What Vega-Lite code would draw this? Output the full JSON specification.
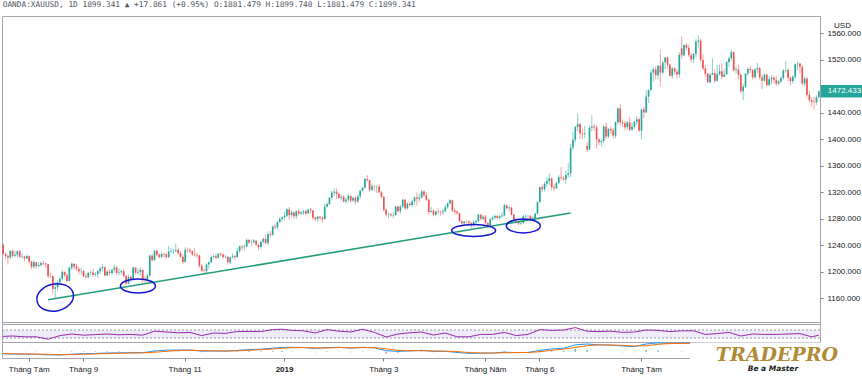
{
"$schema":"https://vega.github.io/schema/vega-lite/v6.json",
"padding":0,
"background":"white",
"title":{"text":"OANDA:XAUUSD, 1D 1899.341 ▲ +17.861 (+0.95%) O:1881.479 H:1899.740 L:1881.479 C:1899.341","anchor":"start","font":"DejaVu Sans Mono","fontSize":7.8,"fontWeight":"normal","color":"#50535e","offset":7,"dx":2},
"spacing":0,
"bounds":"flush",
"resolve":{"scale":{"x":"shared"}},
"config":{"view":{"stroke":"#a3a6af"},"axis":{"labelFont":"Liberation Sans","titleFont":"Liberation Sans","grid":false},
 "axisY":{"orient":"right","titleAngle":0,"titleX":22,"titleY":9,"titleAlign":"center","titleBaseline":"middle","titleFontSize":8,"titleFontWeight":"normal","titleColor":"#131722","labelFontSize":8,"labelColor":"#131722","labelOverlap":false,"labelFlush":false,"tickSize":3,"tickColor":"#787b86","domainColor":"#a3a6af","labelPadding":4}},
"datasets":{
"p":[
{"d":"2018-07-17","o":1240.5,"h":1243,"l":1226,"c":1227.5},
{"d":"2018-07-18","o":1227.5,"h":1229,"l":1220,"c":1224.3},
{"d":"2018-07-19","o":1224.3,"h":1226,"l":1211,"c":1221.8},
{"d":"2018-07-20","o":1221.8,"h":1233,"l":1219,"c":1231.6},
{"d":"2018-07-23","o":1231.6,"h":1235,"l":1221,"c":1224.3},
{"d":"2018-07-24","o":1224.3,"h":1232,"l":1222,"c":1225.9},
{"d":"2018-07-25","o":1225.9,"h":1232.5,"l":1222,"c":1231.2},
{"d":"2018-07-26","o":1231.2,"h":1233,"l":1221,"c":1222.9},
{"d":"2018-07-27","o":1222.9,"h":1228,"l":1220,"c":1223.3},
{"d":"2018-07-30","o":1223.3,"h":1224.5,"l":1216,"c":1220.6},
{"d":"2018-07-31","o":1220.6,"h":1227,"l":1219,"c":1223.8},
{"d":"2018-08-01","o":1223.8,"h":1225,"l":1212,"c":1215.7},
{"d":"2018-08-02","o":1215.7,"h":1217,"l":1204,"c":1207.9},
{"d":"2018-08-03","o":1207.9,"h":1218,"l":1205,"c":1214.7},
{"d":"2018-08-06","o":1214.7,"h":1215,"l":1205,"c":1208.7},
{"d":"2018-08-07","o":1208.7,"h":1215,"l":1207,"c":1210.6},
{"d":"2018-08-08","o":1210.6,"h":1216,"l":1208,"c":1213.5},
{"d":"2018-08-09","o":1213.5,"h":1217,"l":1210,"c":1212.9},
{"d":"2018-08-10","o":1212.9,"h":1214,"l":1206,"c":1211.5},
{"d":"2018-08-13","o":1211.5,"h":1211.5,"l":1190,"c":1193.9},
{"d":"2018-08-14","o":1193.9,"h":1199,"l":1191,"c":1193.5},
{"d":"2018-08-15","o":1193.5,"h":1195,"l":1167,"c":1174.5},
{"d":"2018-08-16","o":1174.5,"h":1185,"l":1160,"c":1176.8},
{"d":"2018-08-17","o":1176.8,"h":1187,"l":1172,"c":1184.0},
{"d":"2018-08-20","o":1184.0,"h":1193,"l":1182,"c":1189.8},
{"d":"2018-08-21","o":1189.8,"h":1203,"l":1187,"c":1200.0},
{"d":"2018-08-22","o":1200.0,"h":1201,"l":1192,"c":1195.2},
{"d":"2018-08-23","o":1195.2,"h":1198,"l":1184,"c":1186.5},
{"d":"2018-08-24","o":1186.5,"h":1208,"l":1186,"c":1206.5},
{"d":"2018-08-27","o":1206.5,"h":1214,"l":1203,"c":1212.4},
{"d":"2018-08-28","o":1212.4,"h":1213,"l":1203,"c":1208.2},
{"d":"2018-08-29","o":1208.2,"h":1212,"l":1202,"c":1204.6},
{"d":"2018-08-30","o":1204.6,"h":1208,"l":1196,"c":1201.2},
{"d":"2018-08-31","o":1201.2,"h":1206,"l":1196,"c":1201.5},
{"d":"2018-09-03","o":1201.5,"h":1203,"l":1192,"c":1193.5},
{"d":"2018-09-04","o":1193.5,"h":1198,"l":1190,"c":1192.2},
{"d":"2018-09-05","o":1192.2,"h":1200,"l":1190,"c":1198.4},
{"d":"2018-09-06","o":1198.4,"h":1202,"l":1195,"c":1199.2},
{"d":"2018-09-07","o":1199.2,"h":1205,"l":1192,"c":1195.5},
{"d":"2018-09-10","o":1195.5,"h":1200,"l":1193,"c":1196.6},
{"d":"2018-09-11","o":1196.6,"h":1203,"l":1191,"c":1201.2},
{"d":"2018-09-12","o":1201.2,"h":1208,"l":1197,"c":1205.2},
{"d":"2018-09-13","o":1205.2,"h":1212,"l":1201,"c":1207.1},
{"d":"2018-09-14","o":1207.1,"h":1208,"l":1193,"c":1194.8},
{"d":"2018-09-17","o":1194.8,"h":1203,"l":1194,"c":1200.5},
{"d":"2018-09-18","o":1200.5,"h":1204,"l":1195,"c":1198.4},
{"d":"2018-09-19","o":1198.4,"h":1204,"l":1196,"c":1203.5},
{"d":"2018-09-20","o":1203.5,"h":1211,"l":1199,"c":1206.6},
{"d":"2018-09-21","o":1206.6,"h":1209,"l":1195,"c":1198.5},
{"d":"2018-09-24","o":1198.5,"h":1205,"l":1195,"c":1199.3},
{"d":"2018-09-25","o":1199.3,"h":1203,"l":1196,"c":1201.1},
{"d":"2018-09-26","o":1201.1,"h":1205,"l":1192,"c":1194.1},
{"d":"2018-09-27","o":1194.1,"h":1195,"l":1180,"c":1182.5},
{"d":"2018-09-28","o":1182.5,"h":1196,"l":1182,"c":1192.3},
{"d":"2018-10-01","o":1192.3,"h":1195,"l":1185,"c":1188.4},
{"d":"2018-10-02","o":1188.4,"h":1208,"l":1187,"c":1206.8},
{"d":"2018-10-03","o":1206.8,"h":1207,"l":1196,"c":1198.9},
{"d":"2018-10-04","o":1198.9,"h":1205,"l":1195,"c":1199.9},
{"d":"2018-10-05","o":1199.9,"h":1207,"l":1194,"c":1203.1},
{"d":"2018-10-08","o":1203.1,"h":1204,"l":1184,"c":1189.6},
{"d":"2018-10-09","o":1189.6,"h":1194,"l":1183,"c":1188.2},
{"d":"2018-10-10","o":1188.2,"h":1197,"l":1185,"c":1194.6},
{"d":"2018-10-11","o":1194.6,"h":1226,"l":1193,"c":1224.6},
{"d":"2018-10-12","o":1224.6,"h":1227,"l":1215,"c":1218.0},
{"d":"2018-10-15","o":1218.0,"h":1233,"l":1216,"c":1232.0},
{"d":"2018-10-16","o":1232.0,"h":1234,"l":1224,"c":1226.0},
{"d":"2018-10-17","o":1226.0,"h":1228,"l":1220,"c":1222.7},
{"d":"2018-10-18","o":1222.7,"h":1230,"l":1221,"c":1227.1},
{"d":"2018-10-19","o":1227.1,"h":1229,"l":1222,"c":1226.5},
{"d":"2018-10-22","o":1226.5,"h":1228,"l":1220,"c":1222.3},
{"d":"2018-10-23","o":1222.3,"h":1239,"l":1221,"c":1230.8},
{"d":"2018-10-24","o":1230.8,"h":1236,"l":1228,"c":1231.5},
{"d":"2018-10-25","o":1231.5,"h":1235,"l":1227,"c":1232.1},
{"d":"2018-10-26","o":1232.1,"h":1243,"l":1230,"c":1233.1},
{"d":"2018-10-29","o":1233.1,"h":1237,"l":1226,"c":1228.6},
{"d":"2018-10-30","o":1228.6,"h":1231,"l":1221,"c":1222.8},
{"d":"2018-10-31","o":1222.8,"h":1226,"l":1212,"c":1215.0},
{"d":"2018-11-01","o":1215.0,"h":1237,"l":1214,"c":1233.5},
{"d":"2018-11-02","o":1233.5,"h":1237,"l":1229,"c":1232.7},
{"d":"2018-11-05","o":1232.7,"h":1236,"l":1228,"c":1231.0},
{"d":"2018-11-06","o":1231.0,"h":1233,"l":1224,"c":1226.5},
{"d":"2018-11-07","o":1226.5,"h":1236,"l":1223,"c":1225.4},
{"d":"2018-11-08","o":1225.4,"h":1229,"l":1221,"c":1224.9},
{"d":"2018-11-09","o":1224.9,"h":1226,"l":1206,"c":1209.4},
{"d":"2018-11-12","o":1209.4,"h":1212,"l":1200,"c":1202.0},
{"d":"2018-11-13","o":1202.0,"h":1205,"l":1196,"c":1201.5},
{"d":"2018-11-14","o":1201.5,"h":1213,"l":1198,"c":1211.2},
{"d":"2018-11-15","o":1211.2,"h":1216,"l":1205,"c":1214.8},
{"d":"2018-11-16","o":1214.8,"h":1225,"l":1213,"c":1222.5},
{"d":"2018-11-19","o":1222.5,"h":1227,"l":1220,"c":1223.6},
{"d":"2018-11-20","o":1223.6,"h":1228,"l":1219,"c":1221.5},
{"d":"2018-11-21","o":1221.5,"h":1228,"l":1220,"c":1227.6},
{"d":"2018-11-22","o":1227.6,"h":1229,"l":1224,"c":1226.3},
{"d":"2018-11-23","o":1226.3,"h":1228,"l":1220,"c":1222.4},
{"d":"2018-11-26","o":1222.4,"h":1226,"l":1220,"c":1223.0},
{"d":"2018-11-27","o":1223.0,"h":1223.5,"l":1211,"c":1214.8},
{"d":"2018-11-28","o":1214.8,"h":1223,"l":1212,"c":1222.2},
{"d":"2018-11-29","o":1222.2,"h":1228,"l":1220,"c":1223.7},
{"d":"2018-11-30","o":1223.7,"h":1226,"l":1218,"c":1222.3},
{"d":"2018-12-03","o":1222.3,"h":1236,"l":1221,"c":1231.4},
{"d":"2018-12-04","o":1231.4,"h":1240,"l":1229,"c":1238.5},
{"d":"2018-12-05","o":1238.5,"h":1241,"l":1233,"c":1237.4},
{"d":"2018-12-06","o":1237.4,"h":1242,"l":1232,"c":1238.4},
{"d":"2018-12-07","o":1238.4,"h":1251,"l":1237,"c":1248.2},
{"d":"2018-12-10","o":1248.2,"h":1250,"l":1242,"c":1244.3},
{"d":"2018-12-11","o":1244.3,"h":1249,"l":1239,"c":1244.8},
{"d":"2018-12-12","o":1244.8,"h":1250,"l":1243,"c":1247.2},
{"d":"2018-12-13","o":1247.2,"h":1248,"l":1239,"c":1241.0},
{"d":"2018-12-14","o":1241.0,"h":1243,"l":1233,"c":1237.5},
{"d":"2018-12-17","o":1237.5,"h":1247,"l":1235,"c":1245.7},
{"d":"2018-12-18","o":1245.7,"h":1252,"l":1243,"c":1249.9},
{"d":"2018-12-19","o":1249.9,"h":1256,"l":1242,"c":1243.6},
{"d":"2018-12-20","o":1243.6,"h":1261,"l":1240,"c":1257.4},
{"d":"2018-12-21","o":1257.4,"h":1262,"l":1253,"c":1256.2},
{"d":"2018-12-24","o":1256.2,"h":1270,"l":1255,"c":1268.4},
{"d":"2018-12-26","o":1268.4,"h":1272,"l":1264,"c":1267.4},
{"d":"2018-12-27","o":1267.4,"h":1277,"l":1264,"c":1275.3},
{"d":"2018-12-28","o":1275.3,"h":1283,"l":1274,"c":1279.8},
{"d":"2018-12-31","o":1279.8,"h":1284,"l":1276,"c":1282.1},
{"d":"2019-01-02","o":1282.1,"h":1291,"l":1278,"c":1284.7},
{"d":"2019-01-03","o":1284.7,"h":1296,"l":1283,"c":1294.5},
{"d":"2019-01-04","o":1294.5,"h":1298,"l":1279,"c":1285.8},
{"d":"2019-01-07","o":1285.8,"h":1293,"l":1283,"c":1289.7},
{"d":"2019-01-08","o":1289.7,"h":1291,"l":1280,"c":1284.1},
{"d":"2019-01-09","o":1284.1,"h":1293,"l":1280,"c":1291.6},
{"d":"2019-01-10","o":1291.6,"h":1295,"l":1285,"c":1287.9},
{"d":"2019-01-11","o":1287.9,"h":1292,"l":1286,"c":1289.5},
{"d":"2019-01-14","o":1289.5,"h":1294,"l":1286,"c":1291.7},
{"d":"2019-01-15","o":1291.7,"h":1294,"l":1285,"c":1288.2},
{"d":"2019-01-16","o":1288.2,"h":1295,"l":1287,"c":1294.1},
{"d":"2019-01-17","o":1294.1,"h":1297,"l":1288,"c":1292.6},
{"d":"2019-01-18","o":1292.6,"h":1293,"l":1279,"c":1281.8},
{"d":"2019-01-21","o":1281.8,"h":1283,"l":1277,"c":1279.7},
{"d":"2019-01-22","o":1279.7,"h":1284,"l":1276,"c":1283.3},
{"d":"2019-01-23","o":1283.3,"h":1285,"l":1278,"c":1281.6},
{"d":"2019-01-24","o":1281.6,"h":1284,"l":1274,"c":1279.6},
{"d":"2019-01-25","o":1279.6,"h":1303,"l":1279,"c":1298.2},
{"d":"2019-01-28","o":1298.2,"h":1305,"l":1297,"c":1302.3},
{"d":"2019-01-29","o":1302.3,"h":1313,"l":1301,"c":1311.8},
{"d":"2019-01-30","o":1311.8,"h":1322,"l":1309,"c":1319.4},
{"d":"2019-01-31","o":1319.4,"h":1326,"l":1314,"c":1321.1},
{"d":"2019-02-01","o":1321.1,"h":1326,"l":1310,"c":1317.8},
{"d":"2019-02-04","o":1317.8,"h":1319,"l":1310,"c":1311.8},
{"d":"2019-02-05","o":1311.8,"h":1317,"l":1308,"c":1313.4},
{"d":"2019-02-06","o":1313.4,"h":1316,"l":1305,"c":1306.3},
{"d":"2019-02-07","o":1306.3,"h":1312,"l":1303,"c":1309.3},
{"d":"2019-02-08","o":1309.3,"h":1318,"l":1306,"c":1314.8},
{"d":"2019-02-11","o":1314.8,"h":1315,"l":1305,"c":1307.6},
{"d":"2019-02-12","o":1307.6,"h":1314,"l":1305,"c":1311.6},
{"d":"2019-02-13","o":1311.6,"h":1314,"l":1302,"c":1306.3},
{"d":"2019-02-14","o":1306.3,"h":1317,"l":1304,"c":1314.0},
{"d":"2019-02-15","o":1314.0,"h":1324,"l":1310,"c":1322.5},
{"d":"2019-02-18","o":1322.5,"h":1328,"l":1321,"c":1327.1},
{"d":"2019-02-19","o":1327.1,"h":1342,"l":1326,"c":1340.2},
{"d":"2019-02-20","o":1340.2,"h":1346,"l":1336,"c":1338.3},
{"d":"2019-02-21","o":1338.3,"h":1339,"l":1321,"c":1323.9},
{"d":"2019-02-22","o":1323.9,"h":1333,"l":1322,"c":1328.9},
{"d":"2019-02-25","o":1328.9,"h":1331,"l":1322,"c":1328.2},
{"d":"2019-02-26","o":1328.2,"h":1330,"l":1319,"c":1328.6},
{"d":"2019-02-27","o":1328.6,"h":1332,"l":1318,"c":1320.1},
{"d":"2019-02-28","o":1320.1,"h":1322,"l":1311,"c":1313.0},
{"d":"2019-03-01","o":1313.0,"h":1315,"l":1291,"c":1293.8},
{"d":"2019-03-04","o":1293.8,"h":1296,"l":1284,"c":1286.6},
{"d":"2019-03-05","o":1286.6,"h":1290,"l":1281,"c":1286.9},
{"d":"2019-03-06","o":1286.9,"h":1289,"l":1283,"c":1285.4},
{"d":"2019-03-07","o":1285.4,"h":1290,"l":1281,"c":1285.8},
{"d":"2019-03-08","o":1285.8,"h":1300,"l":1285,"c":1298.7},
{"d":"2019-03-11","o":1298.7,"h":1299,"l":1289,"c":1291.7},
{"d":"2019-03-12","o":1291.7,"h":1301,"l":1288,"c":1298.9},
{"d":"2019-03-13","o":1298.9,"h":1311,"l":1296,"c":1308.8},
{"d":"2019-03-14","o":1308.8,"h":1310,"l":1293,"c":1295.9},
{"d":"2019-03-15","o":1295.9,"h":1305,"l":1294,"c":1302.8},
{"d":"2019-03-18","o":1302.8,"h":1306,"l":1299,"c":1301.0},
{"d":"2019-03-19","o":1301.0,"h":1309,"l":1298,"c":1306.6},
{"d":"2019-03-20","o":1306.6,"h":1314,"l":1302,"c":1312.4},
{"d":"2019-03-21","o":1312.4,"h":1320,"l":1300,"c":1310.3},
{"d":"2019-03-22","o":1310.3,"h":1318,"l":1305,"c":1312.2},
{"d":"2019-03-25","o":1312.2,"h":1324,"l":1311,"c":1321.3},
{"d":"2019-03-26","o":1321.3,"h":1323,"l":1313,"c":1315.7},
{"d":"2019-03-27","o":1315.7,"h":1320,"l":1307,"c":1309.0},
{"d":"2019-03-28","o":1309.0,"h":1311,"l":1287,"c":1290.5},
{"d":"2019-03-29","o":1290.5,"h":1298,"l":1289,"c":1292.1},
{"d":"2019-04-01","o":1292.1,"h":1295,"l":1284,"c":1286.4},
{"d":"2019-04-02","o":1286.4,"h":1293,"l":1284,"c":1291.2},
{"d":"2019-04-03","o":1291.2,"h":1296,"l":1287,"c":1290.6},
{"d":"2019-04-04","o":1290.6,"h":1293,"l":1285,"c":1289.9},
{"d":"2019-04-05","o":1289.9,"h":1295,"l":1286,"c":1291.7},
{"d":"2019-04-08","o":1291.7,"h":1302,"l":1290,"c":1297.6},
{"d":"2019-04-09","o":1297.6,"h":1305,"l":1295,"c":1303.6},
{"d":"2019-04-10","o":1303.6,"h":1310,"l":1302,"c":1308.1},
{"d":"2019-04-11","o":1308.1,"h":1309,"l":1290,"c":1292.6},
{"d":"2019-04-12","o":1292.6,"h":1296,"l":1287,"c":1290.7},
{"d":"2019-04-15","o":1290.7,"h":1293,"l":1286,"c":1288.4},
{"d":"2019-04-16","o":1288.4,"h":1290,"l":1275,"c":1276.6},
{"d":"2019-04-17","o":1276.6,"h":1278,"l":1271,"c":1273.4},
{"d":"2019-04-18","o":1273.4,"h":1277,"l":1270,"c":1275.9},
{"d":"2019-04-19","o":1275.9,"h":1277,"l":1273,"c":1275.6},
{"d":"2019-04-22","o":1275.6,"h":1278,"l":1270,"c":1273.3},
{"d":"2019-04-23","o":1273.3,"h":1276,"l":1266,"c":1270.4},
{"d":"2019-04-24","o":1270.4,"h":1278,"l":1268,"c":1275.5},
{"d":"2019-04-25","o":1275.5,"h":1279,"l":1272,"c":1276.8},
{"d":"2019-04-26","o":1276.8,"h":1288,"l":1274,"c":1286.3},
{"d":"2019-04-29","o":1286.3,"h":1288,"l":1278,"c":1280.3},
{"d":"2019-04-30","o":1280.3,"h":1286,"l":1278,"c":1283.4},
{"d":"2019-05-01","o":1283.4,"h":1286,"l":1271,"c":1273.8},
{"d":"2019-05-02","o":1273.8,"h":1275,"l":1266,"c":1270.2},
{"d":"2019-05-03","o":1270.2,"h":1282,"l":1267,"c":1279.5},
{"d":"2019-05-06","o":1279.5,"h":1285,"l":1277,"c":1281.8},
{"d":"2019-05-07","o":1281.8,"h":1287,"l":1279,"c":1284.4},
{"d":"2019-05-08","o":1284.4,"h":1286,"l":1279,"c":1281.4},
{"d":"2019-05-09","o":1281.4,"h":1286,"l":1279,"c":1284.0},
{"d":"2019-05-10","o":1284.0,"h":1290,"l":1282,"c":1285.2},
{"d":"2019-05-13","o":1285.2,"h":1303,"l":1284,"c":1300.5},
{"d":"2019-05-14","o":1300.5,"h":1302,"l":1294,"c":1296.2},
{"d":"2019-05-15","o":1296.2,"h":1299,"l":1292,"c":1297.3},
{"d":"2019-05-16","o":1297.3,"h":1298,"l":1285,"c":1286.4},
{"d":"2019-05-17","o":1286.4,"h":1288,"l":1276,"c":1277.6},
{"d":"2019-05-20","o":1277.6,"h":1280,"l":1273,"c":1276.9},
{"d":"2019-05-21","o":1276.9,"h":1278,"l":1270,"c":1273.0},
{"d":"2019-05-22","o":1273.0,"h":1276,"l":1271,"c":1274.0},
{"d":"2019-05-23","o":1274.0,"h":1286,"l":1273,"c":1283.9},
{"d":"2019-05-24","o":1283.9,"h":1287,"l":1280,"c":1284.6},
{"d":"2019-05-27","o":1284.6,"h":1286,"l":1282,"c":1284.9},
{"d":"2019-05-28","o":1284.9,"h":1285,"l":1276,"c":1279.0},
{"d":"2019-05-29","o":1279.0,"h":1284,"l":1277,"c":1281.0},
{"d":"2019-05-30","o":1281.0,"h":1290,"l":1279,"c":1287.8},
{"d":"2019-05-31","o":1287.8,"h":1306,"l":1287,"c":1305.4},
{"d":"2019-06-03","o":1305.4,"h":1329,"l":1304,"c":1327.9},
{"d":"2019-06-04","o":1327.9,"h":1332,"l":1320,"c":1324.6},
{"d":"2019-06-05","o":1324.6,"h":1336,"l":1321,"c":1333.0},
{"d":"2019-06-06","o":1333.0,"h":1343,"l":1328,"c":1337.0},
{"d":"2019-06-07","o":1337.0,"h":1348,"l":1331,"c":1341.1},
{"d":"2019-06-10","o":1341.1,"h":1342,"l":1323,"c":1327.7},
{"d":"2019-06-11","o":1327.7,"h":1332,"l":1322,"c":1326.4},
{"d":"2019-06-12","o":1326.4,"h":1336,"l":1325,"c":1334.2},
{"d":"2019-06-13","o":1334.2,"h":1346,"l":1332,"c":1342.9},
{"d":"2019-06-14","o":1342.9,"h":1358,"l":1338,"c":1341.5},
{"d":"2019-06-17","o":1341.5,"h":1345,"l":1337,"c":1339.6},
{"d":"2019-06-18","o":1339.6,"h":1353,"l":1332,"c":1346.2},
{"d":"2019-06-19","o":1346.2,"h":1364,"l":1342,"c":1348.5},
{"d":"2019-06-20","o":1348.5,"h":1393,"l":1343,"c":1387.5},
{"d":"2019-06-21","o":1387.5,"h":1411,"l":1384,"c":1399.4},
{"d":"2019-06-24","o":1399.4,"h":1420,"l":1395,"c":1418.5},
{"d":"2019-06-25","o":1418.5,"h":1439,"l":1412,"c":1422.8},
{"d":"2019-06-26","o":1422.8,"h":1425,"l":1401,"c":1408.7},
{"d":"2019-06-27","o":1408.7,"h":1415,"l":1400,"c":1407.8},
{"d":"2019-06-28","o":1407.8,"h":1420,"l":1402,"c":1409.0},
{"d":"2019-07-01","o":1390.0,"h":1396,"l":1381,"c":1384.6},
{"d":"2019-07-02","o":1384.6,"h":1420,"l":1384,"c":1417.3},
{"d":"2019-07-03","o":1417.3,"h":1437,"l":1412,"c":1419.5},
{"d":"2019-07-04","o":1419.5,"h":1423,"l":1413,"c":1418.0},
{"d":"2019-07-05","o":1418.0,"h":1422,"l":1386,"c":1399.7},
{"d":"2019-07-08","o":1399.7,"h":1402,"l":1391,"c":1395.9},
{"d":"2019-07-09","o":1395.9,"h":1401,"l":1389,"c":1397.5},
{"d":"2019-07-10","o":1397.5,"h":1421,"l":1394,"c":1419.0},
{"d":"2019-07-11","o":1419.0,"h":1425,"l":1400,"c":1404.1},
{"d":"2019-07-12","o":1404.1,"h":1417,"l":1402,"c":1415.7},
{"d":"2019-07-15","o":1415.7,"h":1419,"l":1408,"c":1413.5},
{"d":"2019-07-16","o":1413.5,"h":1417,"l":1401,"c":1405.6},
{"d":"2019-07-17","o":1405.6,"h":1427,"l":1402,"c":1425.9},
{"d":"2019-07-18","o":1425.9,"h":1448,"l":1422,"c":1446.4},
{"d":"2019-07-19","o":1446.4,"h":1453,"l":1421,"c":1425.6},
{"d":"2019-07-22","o":1425.6,"h":1430,"l":1419,"c":1424.3},
{"d":"2019-07-23","o":1424.3,"h":1428,"l":1413,"c":1418.4},
{"d":"2019-07-24","o":1418.4,"h":1428,"l":1415,"c":1425.6},
{"d":"2019-07-25","o":1425.6,"h":1434,"l":1412,"c":1414.5},
{"d":"2019-07-26","o":1414.5,"h":1425,"l":1413,"c":1418.8},
{"d":"2019-07-29","o":1418.8,"h":1428,"l":1416,"c":1426.4},
{"d":"2019-07-30","o":1426.4,"h":1435,"l":1422,"c":1430.2},
{"d":"2019-07-31","o":1430.2,"h":1433,"l":1411,"c":1413.2},
{"d":"2019-08-01","o":1413.2,"h":1446,"l":1400,"c":1444.9},
{"d":"2019-08-02","o":1444.9,"h":1449,"l":1432,"c":1440.5},
{"d":"2019-08-05","o":1440.5,"h":1474,"l":1440,"c":1464.4},
{"d":"2019-08-06","o":1464.4,"h":1475,"l":1455,"c":1474.3},
{"d":"2019-08-07","o":1474.3,"h":1505,"l":1473,"c":1500.7},
{"d":"2019-08-08","o":1500.7,"h":1509,"l":1487,"c":1505.6},
{"d":"2019-08-09","o":1505.6,"h":1510,"l":1490,"c":1496.8},
{"d":"2019-08-12","o":1496.8,"h":1512,"l":1490,"c":1511.0},
{"d":"2019-08-13","o":1511.0,"h":1535,"l":1480,"c":1500.6},
{"d":"2019-08-14","o":1500.6,"h":1518,"l":1498,"c":1516.0},
{"d":"2019-08-15","o":1516.0,"h":1524,"l":1506,"c":1523.4},
{"d":"2019-08-16","o":1523.4,"h":1525,"l":1507,"c":1512.3},
{"d":"2019-08-19","o":1512.3,"h":1514,"l":1494,"c":1495.9},
{"d":"2019-08-20","o":1495.9,"h":1509,"l":1491,"c":1507.1},
{"d":"2019-08-21","o":1507.1,"h":1509,"l":1498,"c":1501.9},
{"d":"2019-08-22","o":1501.9,"h":1506,"l":1492,"c":1497.9},
{"d":"2019-08-23","o":1497.9,"h":1531,"l":1493,"c":1527.3},
{"d":"2019-08-26","o":1537.0,"h":1555,"l":1521,"c":1526.8},
{"d":"2019-08-27","o":1526.8,"h":1543,"l":1525,"c":1542.2},
{"d":"2019-08-28","o":1542.2,"h":1545,"l":1534,"c":1538.2},
{"d":"2019-08-29","o":1538.2,"h":1543,"l":1524,"c":1526.9},
{"d":"2019-08-30","o":1526.9,"h":1530,"l":1516,"c":1520.5},
{"d":"2019-09-02","o":1520.5,"h":1530,"l":1515,"c":1529.1},
{"d":"2019-09-03","o":1529.1,"h":1551,"l":1524,"c":1547.0},
{"d":"2019-09-04","o":1547.0,"h":1557,"l":1538,"c":1549.0},
{"d":"2019-09-05","o":1549.0,"h":1552,"l":1517,"c":1519.7},
{"d":"2019-09-06","o":1519.7,"h":1528,"l":1504,"c":1506.9},
{"d":"2019-09-09","o":1506.9,"h":1512,"l":1494,"c":1498.9},
{"d":"2019-09-10","o":1498.9,"h":1500,"l":1485,"c":1486.1},
{"d":"2019-09-11","o":1486.1,"h":1500,"l":1484,"c":1497.3},
{"d":"2019-09-12","o":1497.3,"h":1522,"l":1497,"c":1499.9},
{"d":"2019-09-13","o":1499.9,"h":1506,"l":1485,"c":1488.3},
{"d":"2019-09-16","o":1488.3,"h":1512,"l":1487,"c":1498.3},
{"d":"2019-09-17","o":1498.3,"h":1513,"l":1496,"c":1502.5},
{"d":"2019-09-18","o":1502.5,"h":1514,"l":1491,"c":1494.2},
{"d":"2019-09-19","o":1494.2,"h":1506,"l":1494,"c":1498.0},
{"d":"2019-09-20","o":1498.0,"h":1518,"l":1498,"c":1516.5},
{"d":"2019-09-23","o":1516.5,"h":1524,"l":1509,"c":1522.1},
{"d":"2019-09-24","o":1522.1,"h":1535,"l":1519,"c":1531.6},
{"d":"2019-09-25","o":1531.6,"h":1533,"l":1502,"c":1504.0},
{"d":"2019-09-26","o":1504.0,"h":1510,"l":1499,"c":1505.4},
{"d":"2019-09-27","o":1505.4,"h":1513,"l":1490,"c":1497.4},
{"d":"2019-09-30","o":1497.4,"h":1499,"l":1469,"c":1472.5},
{"d":"2019-10-01","o":1472.5,"h":1484,"l":1459,"c":1479.5},
{"d":"2019-10-02","o":1479.5,"h":1500,"l":1477,"c":1499.2},
{"d":"2019-10-03","o":1499.2,"h":1509,"l":1496,"c":1506.2},
{"d":"2019-10-04","o":1506.2,"h":1511,"l":1500,"c":1504.6},
{"d":"2019-10-07","o":1504.6,"h":1506,"l":1490,"c":1493.4},
{"d":"2019-10-08","o":1493.4,"h":1507,"l":1492,"c":1505.3},
{"d":"2019-10-09","o":1505.3,"h":1515,"l":1500,"c":1507.6},
{"d":"2019-10-10","o":1507.6,"h":1509,"l":1490,"c":1493.4},
{"d":"2019-10-11","o":1493.4,"h":1497,"l":1476,"c":1488.5},
{"d":"2019-10-14","o":1488.5,"h":1499,"l":1487,"c":1497.7},
{"d":"2019-10-15","o":1497.7,"h":1498,"l":1480,"c":1481.8},
{"d":"2019-10-16","o":1481.8,"h":1495,"l":1480,"c":1490.6},
{"d":"2019-10-17","o":1490.6,"h":1497,"l":1483,"c":1492.9},
{"d":"2019-10-18","o":1492.9,"h":1496,"l":1484,"c":1489.9},
{"d":"2019-10-21","o":1489.9,"h":1495,"l":1480,"c":1484.1},
{"d":"2019-10-22","o":1484.1,"h":1490,"l":1481,"c":1487.2},
{"d":"2019-10-23","o":1487.2,"h":1495,"l":1485,"c":1492.6},
{"d":"2019-10-24","o":1492.6,"h":1506,"l":1490,"c":1503.7},
{"d":"2019-10-25","o":1503.7,"h":1518,"l":1501,"c":1504.4},
{"d":"2019-10-28","o":1504.4,"h":1507,"l":1488,"c":1492.8},
{"d":"2019-10-29","o":1492.8,"h":1495,"l":1481,"c":1487.7},
{"d":"2019-10-30","o":1487.7,"h":1497,"l":1484,"c":1494.6},
{"d":"2019-10-31","o":1494.6,"h":1514,"l":1491,"c":1513.4},
{"d":"2019-11-01","o":1513.4,"h":1517,"l":1504,"c":1514.2},
{"d":"2019-11-04","o":1514.2,"h":1515,"l":1500,"c":1509.3},
{"d":"2019-11-05","o":1509.3,"h":1512,"l":1481,"c":1484.2},
{"d":"2019-11-06","o":1484.2,"h":1494,"l":1480,"c":1491.3},
{"d":"2019-11-07","o":1491.3,"h":1494,"l":1464,"c":1467.3},
{"d":"2019-11-08","o":1467.3,"h":1473,"l":1456,"c":1459.0},
{"d":"2019-11-11","o":1459.0,"h":1463,"l":1449,"c":1456.6},
{"d":"2019-11-12","o":1456.6,"h":1464,"l":1445,"c":1455.8},
{"d":"2019-11-13","o":1455.8,"h":1466,"l":1452,"c":1463.6},
{"d":"2019-11-14","o":1463.6,"h":1474,"l":1462,"c":1472.433}
],
"ind":[
{"d":"2018-07-17","r":38,"m":-7.5,"s":-6.5,"g":-1.0},
{"d":"2018-07-23","r":40,"m":-8.0,"s":-7.2,"g":-0.8},
{"d":"2018-07-30","r":36,"m":-8.5,"s":-7.8,"g":-0.7},
{"d":"2018-08-06","r":36,"m":-9.0,"s":-8.3,"g":-0.7},
{"d":"2018-08-13","r":24,"m":-11.0,"s":-9.0,"g":-2.0},
{"d":"2018-08-20","r":42,"m":-11.5,"s":-10.5,"g":-1.0},
{"d":"2018-08-27","r":50,"m":-8.5,"s":-10.0,"g":1.5},
{"d":"2018-09-03","r":44,"m":-7.0,"s":-9.0,"g":2.0},
{"d":"2018-09-10","r":47,"m":-6.0,"s":-7.8,"g":1.8},
{"d":"2018-09-17","r":50,"m":-4.5,"s":-6.5,"g":2.0},
{"d":"2018-09-24","r":46,"m":-4.0,"s":-5.5,"g":1.5},
{"d":"2018-10-01","r":48,"m":-3.5,"s":-4.6,"g":1.1},
{"d":"2018-10-08","r":44,"m":-3.5,"s":-4.0,"g":0.5},
{"d":"2018-10-15","r":64,"m":2.5,"s":-2.0,"g":4.5},
{"d":"2018-10-22","r":60,"m":5.5,"s":1.5,"g":4.0},
{"d":"2018-10-29","r":56,"m":6.0,"s":4.0,"g":2.0},
{"d":"2018-11-05","r":58,"m":6.0,"s":5.2,"g":0.8},
{"d":"2018-11-12","r":42,"m":2.0,"s":4.0,"g":-2.0},
{"d":"2018-11-19","r":55,"m":2.5,"s":3.0,"g":-0.5},
{"d":"2018-11-26","r":53,"m":2.0,"s":2.5,"g":-0.5},
{"d":"2018-12-03","r":62,"m":4.5,"s":3.0,"g":1.5},
{"d":"2018-12-10","r":63,"m":7.5,"s":5.0,"g":2.5},
{"d":"2018-12-17","r":62,"m":9.0,"s":7.0,"g":2.0},
{"d":"2018-12-24","r":72,"m":12.5,"s":9.5,"g":3.0},
{"d":"2018-12-31","r":74,"m":15.0,"s":12.0,"g":3.0},
{"d":"2019-01-07","r":68,"m":15.5,"s":14.0,"g":1.5},
{"d":"2019-01-14","r":66,"m":14.5,"s":14.5,"g":0.2},
{"d":"2019-01-21","r":55,"m":11.5,"s":13.5,"g":-2.0},
{"d":"2019-01-28","r":72,"m":14.5,"s":13.0,"g":1.5},
{"d":"2019-02-04","r":64,"m":15.5,"s":14.5,"g":1.0},
{"d":"2019-02-11","r":60,"m":12.5,"s":14.0,"g":-1.5},
{"d":"2019-02-18","r":74,"m":15.5,"s":14.0,"g":1.5},
{"d":"2019-02-25","r":58,"m":13.5,"s":14.5,"g":-1.0},
{"d":"2019-03-04","r":35,"m":3.5,"s":10.0,"g":-6.5},
{"d":"2019-03-11","r":50,"m":1.0,"s":5.0,"g":-4.0},
{"d":"2019-03-18","r":56,"m":3.0,"s":3.0,"g":0.2},
{"d":"2019-03-25","r":60,"m":5.0,"s":3.5,"g":1.5},
{"d":"2019-04-01","r":45,"m":1.0,"s":2.8,"g":-1.8},
{"d":"2019-04-08","r":55,"m":1.5,"s":1.8,"g":-0.3},
{"d":"2019-04-15","r":36,"m":-2.5,"s":0.5,"g":-3.0},
{"d":"2019-04-22","r":36,"m":-6.0,"s":-3.0,"g":-3.0},
{"d":"2019-04-29","r":48,"m":-5.0,"s":-4.5,"g":-0.5},
{"d":"2019-05-06","r":48,"m":-4.5,"s":-4.8,"g":0.3},
{"d":"2019-05-13","r":58,"m":-1.5,"s":-3.5,"g":2.0},
{"d":"2019-05-20","r":42,"m":-3.0,"s":-3.0,"g":0.2},
{"d":"2019-05-27","r":48,"m":-2.5,"s":-2.8,"g":0.3},
{"d":"2019-06-03","r":72,"m":4.5,"s":0.0,"g":4.5},
{"d":"2019-06-10","r":68,"m":9.5,"s":5.0,"g":4.5},
{"d":"2019-06-17","r":70,"m":12.5,"s":9.0,"g":3.5},
{"d":"2019-06-24","r":82,"m":24.0,"s":15.0,"g":9.0},
{"d":"2019-07-01","r":64,"m":27.0,"s":21.0,"g":6.0},
{"d":"2019-07-08","r":62,"m":24.0,"s":24.0,"g":0.2},
{"d":"2019-07-15","r":64,"m":23.0,"s":23.5,"g":-0.5},
{"d":"2019-07-22","r":58,"m":20.0,"s":22.0,"g":-2.0},
{"d":"2019-07-29","r":60,"m":18.0,"s":20.0,"g":-2.0},
{"d":"2019-08-05","r":70,"m":27.0,"s":21.0,"g":6.0},
{"d":"2019-08-12","r":68,"m":31.0,"s":26.0,"g":5.0},
{"d":"2019-08-19","r":62,"m":29.0,"s":28.5,"g":0.5},
{"d":"2019-08-26","r":66,"m":30.5,"s":29.0,"g":1.5},
{"d":"2019-09-02","r":66,"m":31.0,"s":30.0,"g":1.0},
{"d":"2019-09-09","r":48,"m":24.0,"s":28.0,"g":-4.0},
{"d":"2019-09-16","r":52,"m":18.0,"s":23.0,"g":-5.0},
{"d":"2019-09-23","r":58,"m":17.0,"s":20.0,"g":-3.0},
{"d":"2019-09-30","r":40,"m":10.0,"s":16.0,"g":-6.0},
{"d":"2019-10-07","r":50,"m":8.0,"s":12.0,"g":-4.0},
{"d":"2019-10-14","r":48,"m":5.0,"s":8.5,"g":-3.5},
{"d":"2019-10-21","r":48,"m":3.0,"s":6.0,"g":-3.0},
{"d":"2019-10-28","r":50,"m":3.0,"s":4.5,"g":-1.5},
{"d":"2019-11-04","r":52,"m":2.5,"s":3.5,"g":-1.0},
{"d":"2019-11-11","r":36,"m":-3.5,"s":0.0,"g":-3.5},
{"d":"2019-11-14","r":44,"m":-4.0,"s":-1.5,"g":-2.5}
]
},
"vconcat":[
{
"width":818,"height":308,
"data":{"name":"p"},
"encoding":{"x":{"field":"d","type":"ordinal","scale":{"type":"band","paddingInner":0,"paddingOuter":0},"axis":null}},
"layer":[
{"mark":{"type":"rule","strokeWidth":1,"opacity":0.55},
 "encoding":{
  "y":{"field":"l","type":"quantitative","title":"USD","scale":{"domain":[1121.5,1586],"nice":false,"zero":false},"axis":{"labelOverlap":false,"values":[1160,1200,1240,1280,1320,1360,1400,1440,1520,1560],"format":".3f"}},
  "y2":{"field":"h"},
  "color":{"condition":{"test":"datum.c >= datum.o","value":"#26a69a"},"value":"#ef5350"}}},
{"mark":{"type":"bar","width":{"band":0.7}},
 "encoding":{
  "y":{"field":"o","type":"quantitative","title":"USD","scale":{"domain":[1121.5,1586],"nice":false,"zero":false},"axis":{"labelOverlap":false,"values":[1160,1200,1240,1280,1320,1360,1400,1440,1520,1560],"format":".3f"}},
  "y2":{"field":"c"},
  "color":{"condition":{"test":"datum.c >= datum.o","value":"#26a69a"},"value":"#ef5350"}}},
{"data":{"values":[{"d":"2018-08-13","t":1158},{"d":"2019-06-20","t":1289}]},
 "mark":{"type":"line","color":"#1f9d7c","strokeWidth":1.6},
 "encoding":{"y":{"field":"t","type":"quantitative","title":"USD","scale":{"domain":[1121.5,1586],"nice":false,"zero":false},"axis":{"labelOverlap":false,"values":[1160,1200,1240,1280,1320,1360,1400,1440,1520,1560],"format":".3f"}}}},
{"data":{"values":[{"d":"2018-08-16","e":1161.5}]},
 "mark":{"type":"point","shape":"M -1 0 A 1 0.73 0 1 0 1 0 A 1 0.73 0 1 0 -1 0 Z","size":1369,"filled":false,"color":"#1414d2","strokeWidth":1.5,"opacity":1,"angle":-12},
 "encoding":{"y":{"field":"e","type":"quantitative","title":"USD","scale":{"domain":[1121.5,1586],"nice":false,"zero":false},"axis":{"labelOverlap":false,"values":[1160,1200,1240,1280,1320,1360,1400,1440,1520,1560],"format":".3f"}}}},
{"data":{"values":[{"d":"2018-10-04","e":1178.8}]},
 "mark":{"type":"point","shape":"M -1 0 A 1 0.4 0 1 0 1 0 A 1 0.4 0 1 0 -1 0 Z","size":1225,"filled":false,"color":"#1414d2","strokeWidth":1.5,"opacity":1},
 "encoding":{"y":{"field":"e","type":"quantitative","title":"USD","scale":{"domain":[1121.5,1586],"nice":false,"zero":false},"axis":{"labelOverlap":false,"values":[1160,1200,1240,1280,1320,1360,1400,1440,1520,1560],"format":".3f"}}}},
{"data":{"values":[{"d":"2019-04-24","e":1262.5}]},
 "mark":{"type":"point","shape":"M -1 0 A 1 0.27 0 1 0 1 0 A 1 0.27 0 1 0 -1 0 Z","size":1936,"filled":false,"color":"#1414d2","strokeWidth":1.5,"opacity":1},
 "encoding":{"y":{"field":"e","type":"quantitative","title":"USD","scale":{"domain":[1121.5,1586],"nice":false,"zero":false},"axis":{"labelOverlap":false,"values":[1160,1200,1240,1280,1320,1360,1400,1440,1520,1560],"format":".3f"}}}},
{"data":{"values":[{"d":"2019-05-23","e":1269.3}]},
 "mark":{"type":"point","shape":"M -1 0 A 1 0.41 0 1 0 1 0 A 1 0.41 0 1 0 -1 0 Z","size":1156,"filled":false,"color":"#1414d2","strokeWidth":1.5,"opacity":1},
 "encoding":{"y":{"field":"e","type":"quantitative","title":"USD","scale":{"domain":[1121.5,1586],"nice":false,"zero":false},"axis":{"labelOverlap":false,"values":[1160,1200,1240,1280,1320,1360,1400,1440,1520,1560],"format":".3f"}}}},
{"data":{"values":[{"d":"2019-11-14","v":1472.433,"lab":"1472.433"}]},
 "mark":{"type":"point","shape":"M 0.2 -0.62 H 4.4 V 0.62 H 0.2 Z","size":400,"filled":true,"color":"#26a69a","opacity":1,"strokeWidth":0},
 "encoding":{"y":{"field":"v","type":"quantitative","title":"USD","scale":{"domain":[1121.5,1586],"nice":false,"zero":false},"axis":{"labelOverlap":false,"values":[1160,1200,1240,1280,1320,1360,1400,1440,1520,1560],"format":".3f"}}}},
{"data":{"values":[{"d":"2019-11-14","v":1472.433,"lab":"1472.433"}]},
 "mark":{"type":"text","color":"white","fontSize":8,"font":"Liberation Sans","align":"left","baseline":"middle","dx":9},
 "encoding":{"y":{"field":"v","type":"quantitative","title":"USD","scale":{"domain":[1121.5,1586],"nice":false,"zero":false},"axis":{"labelOverlap":false,"values":[1160,1200,1240,1280,1320,1360,1400,1440,1520,1560],"format":".3f"}},"text":{"field":"lab"}}}
]
},
{
"width":818,"height":18,
"layer":[
{"data":{"values":[{}]},
 "mark":{"type":"rect","color":"#7e57c2","opacity":0.12},
 "encoding":{"y":{"datum":30,"type":"quantitative","scale":{"domain":[10,100],"nice":false,"zero":false},"axis":null},"y2":{"datum":70}}},
{"data":{"values":[{"v":30},{"v":70}]},
 "mark":{"type":"rule","color":"#9598a1","strokeDash":[2,2],"strokeWidth":1},
 "encoding":{"y":{"field":"v","type":"quantitative","scale":{"domain":[10,100],"nice":false,"zero":false},"axis":null}}},
{"data":{"name":"ind"},
 "mark":{"type":"line","color":"#9c27b0","strokeWidth":1},
 "encoding":{"x":{"field":"d","type":"ordinal","axis":null},"y":{"field":"r","type":"quantitative","scale":{"domain":[10,100],"nice":false,"zero":false},"axis":null}}}
]
},
{
"width":818,"height":16,
"data":{"name":"ind"},
"resolve":{"axis":{"x":"independent"}},
"layer":[
{"mark":{"type":"bar","width":{"band":0.6},"opacity":0.8},
 "encoding":{
  "x":{"field":"d","type":"ordinal","axis":{"values":["2018-08-01","2018-09-03","2018-11-01","2019-01-02","2019-03-01","2019-05-01","2019-06-03","2019-08-01"],"labelExpr":"datum.value == '2018-08-01' ? 'Tháng Tám' : datum.value == '2018-09-03' ? 'Tháng 9' : datum.value == '2018-11-01' ? 'Tháng 11' : datum.value == '2019-01-02' ? '2019' : datum.value == '2019-03-01' ? 'Tháng 3' : datum.value == '2019-05-01' ? 'Tháng Năm' : datum.value == '2019-06-03' ? 'Tháng 6' : datum.value == '2019-08-01' ? 'Tháng Tám' : ''","labelAngle":0,"labelFontSize":8,"labelColor":"#131722","labelFontWeight":{"condition":{"test":"datum.value == '2019-01-02'","value":"bold"},"value":"normal"},"tickSize":3,"tickColor":"#787b86","domain":false,"labelPadding":4,"title":null,"labelOverlap":false,"labelFlush":false}},
  "y":{"field":"g","type":"quantitative","scale":{"domain":[-22,34],"nice":false,"zero":false},"axis":null},
  "color":{"condition":{"test":"datum.g >= 0","value":"#26a69a"},"value":"#ef5350"}}},
{"mark":{"type":"line","color":"#2196f3","strokeWidth":1},
 "encoding":{"x":{"field":"d","type":"ordinal","axis":{"offset":20,"labels":false,"ticks":false,"domain":true,"domainColor":"#a3a6af","title":null}},"y":{"field":"m","type":"quantitative","scale":{"domain":[-22,34],"nice":false,"zero":false},"axis":null}}},
{"mark":{"type":"line","color":"#ff6d00","strokeWidth":1},
 "encoding":{"x":{"field":"d","type":"ordinal","axis":null},"y":{"field":"s","type":"quantitative","scale":{"domain":[-22,34],"nice":false,"zero":false},"axis":null}}},
{"data":{"values":[{"d":"2019-10-18","v":-22,"t1":"TRADEPRO","t2":"Be a Master"}]},
 "layer":[
  {"mark":{"type":"point","shape":"M -8.38 -1.55 H 8.92 V 2.2 H -8.38 Z","size":400,"filled":true,"color":"white","opacity":1,"strokeWidth":0},
   "encoding":{"x":{"field":"d","type":"ordinal","axis":null},"y":{"field":"v","type":"quantitative","scale":{"domain":[-22,34],"nice":false,"zero":false},"axis":null}}},
  {"mark":{"type":"text","font":"DejaVu Serif","fontSize":19,"fontWeight":"bold","fontStyle":"italic","color":"#b08a35","align":"center","baseline":"alphabetic","dy":3,"dx":3},
   "encoding":{"x":{"field":"d","type":"ordinal","axis":null},"y":{"field":"v","type":"quantitative","scale":{"domain":[-22,34],"nice":false,"zero":false},"axis":null},"text":{"field":"t1"}}},
  {"mark":{"type":"text","font":"DejaVu Sans","fontSize":7.5,"fontWeight":"bold","fontStyle":"italic","color":"#1a1a1a","align":"center","baseline":"alphabetic","dy":13,"dx":-1},
   "encoding":{"x":{"field":"d","type":"ordinal","axis":null},"y":{"field":"v","type":"quantitative","scale":{"domain":[-22,34],"nice":false,"zero":false},"axis":null},"text":{"field":"t2"}}}
 ]}
]
}
]
}
